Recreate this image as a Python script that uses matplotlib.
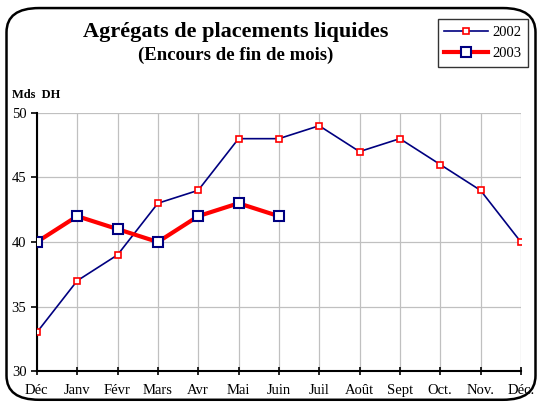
import matplotlib.pyplot as plt
from matplotlib.patches import FancyBboxPatch
from matplotlib.lines import Line2D

plt.rcParams['font.family'] = ['Liberation Serif', 'DejaVu Serif']

months = ['Déc', 'Janv', 'Févr', 'Mars', 'Avr', 'Mai', 'Juin', 'Juil',
          'Août', 'Sept', 'Oct.', 'Nov.', 'Déc.']
vals_2002 = [33, 37, 39, 43, 44, 48, 48, 49, 47, 48, 46, 44, 40]
vals_2003 = [40, 42, 41, 40, 42, 43, 42]

fig = plt.figure(figsize=(5.42, 4.03), dpi=100)
ax = fig.add_axes([0.068, 0.079, 0.893, 0.641])

# rounded outer frame
frame = FancyBboxPatch((0.012, 0.008), 0.976, 0.972,
                       boxstyle="round,pad=0,rounding_size=0.06",
                       transform=fig.transFigure, fill=False,
                       edgecolor='black', linewidth=1.8)
fig.patches.append(frame)

x = list(range(len(months)))
ax.plot(x, vals_2002, color='#000080', lw=1.2, marker='s', markersize=4,
        markerfacecolor='white', markeredgecolor='red', markeredgewidth=1.2,
        zorder=3)
ax.plot(x[:len(vals_2003)], vals_2003, color='red', lw=3, marker='s',
        markersize=7, markerfacecolor='white', markeredgecolor='#000080',
        markeredgewidth=1.5, zorder=4)

ax.set_xlim(0, len(months) - 1)
ax.set_ylim(30, 50)
ax.set_yticks([30, 35, 40, 45, 50])
ax.set_xticks(x)
ax.set_xticklabels(months, fontsize=10.5)
ax.tick_params(axis='y', labelsize=10.5, direction='out', length=4, width=1.2)
ax.tick_params(axis='x', direction='inout', length=6, width=1.2, pad=6)
ax.grid(True, color='#c0c0c0', lw=0.9)
ax.set_axisbelow(True)
for s in ['top', 'right']:
    ax.spines[s].set_visible(False)
for s in ['left', 'bottom']:
    ax.spines[s].set_linewidth(1.5)

fig.text(0.435, 0.92, 'Agrégats de placements liquides', ha='center',
         va='center', fontsize=16, fontweight='bold')
fig.text(0.435, 0.862, '(Encours de fin de mois)', ha='center', va='center',
         fontsize=13.5, fontweight='bold')
fig.text(0.022, 0.765, 'Mds  DH', ha='left', va='center', fontsize=9,
         fontweight='bold')

handles = [
    Line2D([], [], color='#000080', lw=1.2, marker='s', markersize=4,
           markerfacecolor='white', markeredgecolor='red', markeredgewidth=1.2),
    Line2D([], [], color='red', lw=3, marker='s', markersize=7,
           markerfacecolor='white', markeredgecolor='#000080', markeredgewidth=1.5),
]
leg = fig.legend(handles, ['2002', '2003'], loc='upper right',
                 bbox_to_anchor=(0.974, 0.952), fontsize=10.5, frameon=True,
                 fancybox=False, edgecolor='black', handlelength=3.0,
                 borderpad=0.45, labelspacing=0.55, handletextpad=0.3,
                 borderaxespad=0)
leg.get_frame().set_linewidth(1.0)

fig.savefig('out.png', dpi=100)
